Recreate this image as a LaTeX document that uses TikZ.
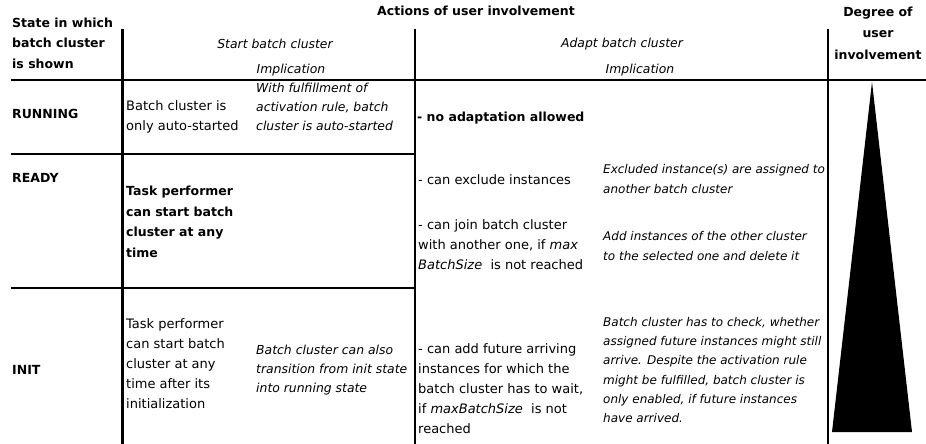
\documentclass[tikz,border=0pt]{standalone}
\usepackage{fontspec}
\setmainfont{DejaVu Sans}
\begin{document}
\begin{tikzpicture}[x=1pt,y=-1pt,
  rule/.style={line width=2.8pt},
  txt/.style={inner sep=0pt, align=left, anchor=west, font=\fontsize{13}{20}\selectfont},
  bld/.style={inner sep=0pt, align=left, anchor=west, font=\bfseries\fontsize{12.5}{20.5}\selectfont},
  itl/.style={inner sep=0pt, align=left, anchor=west, font=\itshape\fontsize{12.4}{19.2}\selectfont},
  itlnarrow/.style={inner sep=0pt, align=left, anchor=west, font=\itshape\fontsize{12}{19.2}\selectfont},
  hdr/.style={inner sep=0pt, align=center, anchor=center, font=\bfseries\fontsize{12.5}{21.5}\selectfont},
  ihdr/.style={inner sep=0pt, anchor=center, font=\itshape\fontsize{12.4}{19}\selectfont}]
\useasboundingbox (0,0) rectangle (926,444);

% table rules
\coordinate (hA) at (10.7,80);  \coordinate (hA') at (926,80);
\coordinate (hB) at (10.7,154); \coordinate (hB') at (415,154);
\coordinate (hC) at (10.7,288); \coordinate (hC') at (415,288);
\coordinate (v1) at (122.5,29); \coordinate (v1') at (122.5,444);
\coordinate (v2) at (415,29);   \coordinate (v2') at (415,444);
\coordinate (v3) at (828,29);   \coordinate (v3') at (828,444);
\draw[rule] (hA) -- (hA');
\draw[rule] (hB) -- (hB');
\draw[rule] (hC) -- (hC');
\draw[rule] (v1) -- (v1');
\draw[rule] (v2) -- (v2');
\draw[rule] (v3) -- (v3');

% column headers
\node[bld] (state) at (12,43) {State in which\\batch cluster\\is shown};
\node[hdr] (actions) at (476,11) {Actions of user involvement};
\node[hdr] (degree) at (878,33) {Degree of\\user\\involvement};
\node[ihdr] (start) at (275,44) {Start batch cluster};
\node[ihdr] (implA) at (291,70) {Implication};
\node[ihdr] (adapt) at (622,44) {Adapt batch cluster};
\node[ihdr] (implB) at (640,70) {Implication};

% RUNNING row
\node[bld] (running) at (12,114) {RUNNING};
\node[txt] (runStart) at (126,117) {Batch cluster is\\only auto-started};
\node[itl] (runImpl) at (256,107) {With fulfillment of\\activation rule, batch\\cluster is auto-started};
\node[bld] (runAdapt) at (417,118) {- no adaptation allowed};

% READY row
\node[bld] (ready) at (12,178) {READY};
\node[bld] (readyStart) at (126,222) {Task performer\\can start batch\\cluster at any\\time};
\node[txt] (exclude) at (418,180) {- can exclude instances};
\node[itlnarrow] (excludeImpl) at (603,179) {Excluded instance(s) are assigned to\\another batch cluster};
\node[txt] (join) at (418,245) {- can join batch cluster\\with another one, if \textit{max}\\\textit{BatchSize}\ \ is not reached};
\node[itlnarrow] (joinImpl) at (603,246) {Add instances of the other cluster\\to the selected one and delete it};

% INIT row
\node[bld] (init) at (12,370) {INIT};
\node[txt] (initStart) at (126,364) {Task performer\\can start batch\\cluster at any\\time after its\\initialization};
\node[itl] (initImpl) at (256,370) {Batch cluster can also\\transition from init state\\into running state};
\node[txt] (future) at (418,389) {- can add future arriving\\instances for which the\\batch cluster has to wait,\\if \textit{maxBatchSize}\ \ is not\\reached};
\node[itlnarrow] (futureImpl) at (603,370) {Batch cluster has to check, whether\\assigned future instances might still\\arrive. Despite the activation rule\\might be fulfilled, batch cluster is\\only enabled, if future instances\\have arrived.};

% degree-of-involvement wedge
\coordinate (apex) at (872,82);
\coordinate (baseR) at (912,432);
\coordinate (baseL) at (832,432);
\fill (apex) -- (baseR) -- (baseL) -- cycle;
\end{tikzpicture}
\end{document}
